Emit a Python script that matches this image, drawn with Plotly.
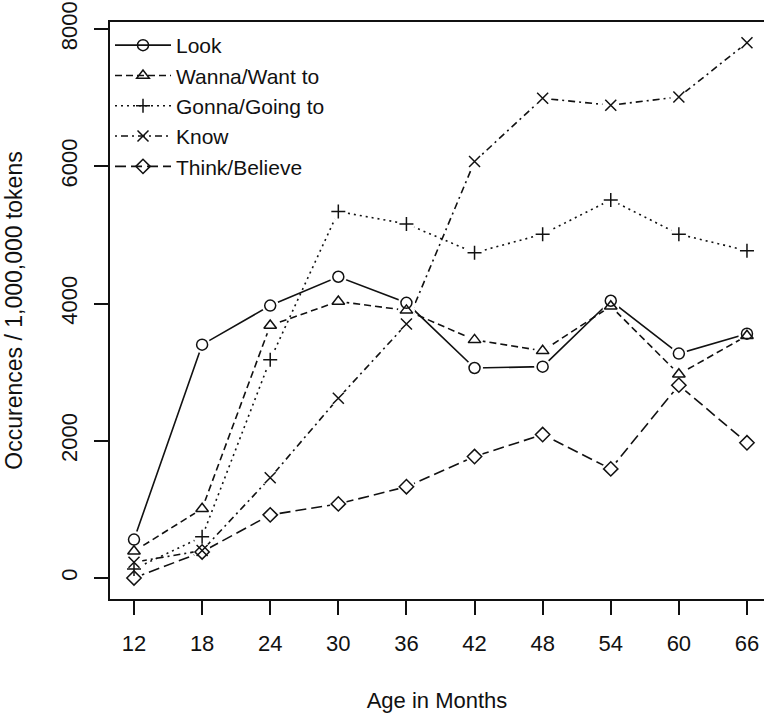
import plotly.graph_objects as go

ages = [12, 18, 24, 30, 36, 42, 48, 54, 60, 66]
look = [560, 3400, 3970, 4390, 4010, 3060, 3080, 4040, 3270, 3560]
wanna = [390, 1010, 3680, 4030, 3900, 3470, 3310, 3960, 2970, 3530]
gonna = [130, 600, 3180, 5340, 5160, 4740, 5010, 5510, 5010, 4770]
know = [230, 400, 1460, 2620, 3700, 6070, 6990, 6890, 7010, 7800]
think = [0, 380, 920, 1080, 1330, 1770, 2090, 1590, 2810, 1970]

series_names = ["Look", "Wanna/Want to", "Gonna/Going to", "Know", "Think/Believe"]
series_values = [look, wanna, gonna, know, think]
y_ticks = [0, 2000, 4000, 6000, 8000]
x_tick_labels = [str(a) for a in ages]

dashes = ["solid", "7px,4px", "2px,4px", "2px,4px,7px,4px", "11px,5px"]
symbols = ["circle-open", "triangle-up-open", "cross-thin-open", "x-thin-open", "diamond-open"]
sizes = [11, 11, 10, 11, 11]

INK = "#111111"
FONT = "Liberation Sans, Arial, Helvetica, sans-serif"

fig = go.Figure()

# lines (with legend)
for i, (name, vals) in enumerate(zip(series_names, series_values)):
    fig.add_trace(go.Scatter(
        x=ages, y=vals, name=name, mode="lines+markers",
        legendgroup=name,
        line=dict(color=INK, width=1.6, dash=dashes[i]),
        marker=dict(symbol=symbols[i], size=sizes[i], color=INK,
                    line=dict(color=INK, width=1.5)),
    ))

# white masks to emulate gaps around points (type="b")
for i, vals in enumerate(series_values):
    fig.add_trace(go.Scatter(
        x=ages, y=vals, mode="markers", showlegend=False, hoverinfo="skip",
        marker=dict(symbol="circle", size=17, color="white", line=dict(width=0)),
    ))

# markers on top
for i, (name, vals) in enumerate(zip(series_names, series_values)):
    fig.add_trace(go.Scatter(
        x=ages, y=vals, mode="markers", showlegend=False, hoverinfo="skip",
        marker=dict(symbol=symbols[i], size=sizes[i], color=INK,
                    line=dict(color=INK, width=1.5)),
    ))

fig.update_layout(
    width=764, height=713,
    margin=dict(l=110, r=0, t=22, b=114),
    paper_bgcolor="white", plot_bgcolor="white",
    font=dict(family=FONT, size=22, color=INK),
    showlegend=True,
    legend=dict(
        x=0.0, y=1.0 - 3 / 577, xanchor="left", yanchor="top",
        bgcolor="rgba(0,0,0,0)", borderwidth=0,
        font=dict(size=21, family=FONT, color=INK),
        itemwidth=56, tracegroupgap=0, traceorder="normal",
    ),
    xaxis=dict(
        range=[9.886, 67.5], tickmode="array", tickvals=ages, ticktext=x_tick_labels,
        showgrid=False, zeroline=False, showline=True, linecolor=INK, linewidth=1.5,
        mirror=True, ticks="outside", ticklen=14, tickwidth=1.5, tickcolor=INK,
        ticklabelstandoff=10, ticklabeloverflow="allow",
        title=dict(text="Age in Months", standoff=37, font=dict(size=22)),
    ),
    yaxis=dict(
        range=[-306, 8102], tickmode="array", tickvals=y_ticks,
        ticktext=[str(v) for v in y_ticks], tickangle=-90,
        showgrid=False, zeroline=False, showline=True, linecolor=INK, linewidth=1.5,
        mirror=False, ticks="outside", ticklen=14, tickwidth=1.5, tickcolor=INK,
        ticklabelstandoff=8, ticklabeloverflow="allow",
        title=dict(text="Occurences / 1,000,000 tokens", standoff=28, font=dict(size=23)),
    ),
)

fig.write_html(
    "out.html",
    config={"displayModeBar": False},
    post_script="document.body.style.margin='0';document.body.style.overflow='hidden';",
)
